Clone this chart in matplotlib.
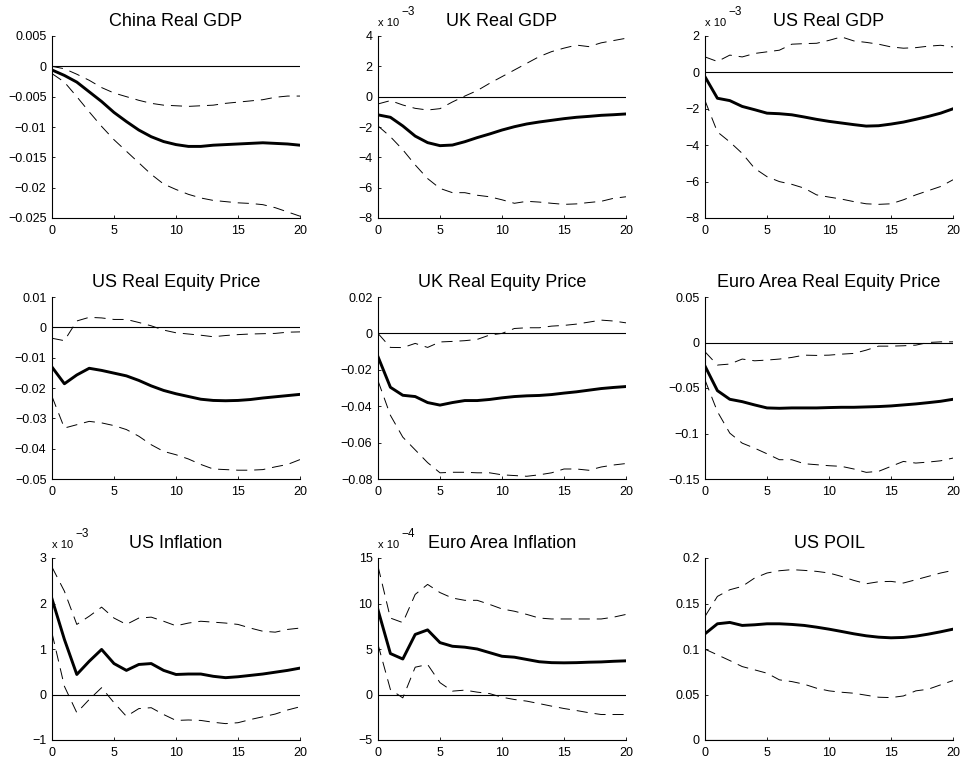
import numpy as np
import matplotlib
matplotlib.use('Agg')
from matplotlib import pyplot as plt
from matplotlib.ticker import FixedLocator, FuncFormatter

plt.rcParams['font.family'] = ['Liberation Sans', 'DejaVu Sans']
plt.rcParams['lines.scale_dashes'] = False

horizon = np.arange(21)

# impulse responses: median and the two error bands for each variable
china_gdp = [-0.0006, -0.0015, -0.0026, -0.0042, -0.0058, -0.0076, -0.0091, -0.0105, -0.0116, -0.0124,
             -0.0129, -0.0132, -0.0132, -0.0130, -0.0129, -0.0128, -0.0127, -0.0126, -0.0127, -0.0128, -0.0130]
china_gdp_hi = [0.0, -0.0004, -0.0013, -0.0023, -0.0035, -0.0044, -0.0050, -0.0056, -0.0061, -0.0064,
                -0.0065, -0.0066, -0.0065, -0.0064, -0.0061, -0.0059, -0.0057, -0.0055, -0.0051, -0.0049, -0.0049]
china_gdp_lo = [-0.0012, -0.0026, -0.0050, -0.0075, -0.0099, -0.0121, -0.0140, -0.0159, -0.0178, -0.0194,
                -0.0203, -0.0211, -0.0217, -0.0221, -0.0223, -0.0225, -0.0226, -0.0228, -0.0233, -0.0240, -0.0247]

uk_gdp = [-1.20e-3, -1.36e-3, -1.93e-3, -2.60e-3, -3.03e-3, -3.23e-3, -3.19e-3, -2.97e-3, -2.70e-3, -2.46e-3,
          -2.20e-3, -1.98e-3, -1.80e-3, -1.67e-3, -1.56e-3, -1.45e-3, -1.36e-3, -1.30e-3, -1.23e-3, -1.19e-3, -1.14e-3]
uk_gdp_hi = [-0.48e-3, -0.26e-3, -0.55e-3, -0.77e-3, -0.88e-3, -0.79e-3, -0.35e-3, 0.04e-3, 0.40e-3, 0.88e-3,
             1.32e-3, 1.76e-3, 2.20e-3, 2.64e-3, 2.97e-3, 3.20e-3, 3.40e-3, 3.30e-3, 3.55e-3, 3.70e-3, 3.85e-3]
uk_gdp_lo = [-1.93e-3, -2.64e-3, -3.50e-3, -4.50e-3, -5.40e-3, -6.05e-3, -6.33e-3, -6.33e-3, -6.50e-3, -6.60e-3,
             -6.80e-3, -7.03e-3, -6.90e-3, -6.95e-3, -7.03e-3, -7.10e-3, -7.07e-3, -6.98e-3, -6.90e-3, -6.70e-3, -6.60e-3]

us_gdp = [-0.24e-3, -1.42e-3, -1.55e-3, -1.87e-3, -2.05e-3, -2.24e-3, -2.27e-3, -2.33e-3, -2.45e-3, -2.58e-3,
          -2.69e-3, -2.78e-3, -2.87e-3, -2.95e-3, -2.93e-3, -2.84e-3, -2.73e-3, -2.58e-3, -2.42e-3, -2.24e-3, -2.00e-3]
us_gdp_hi = [0.85e-3, 0.60e-3, 0.95e-3, 0.85e-3, 1.04e-3, 1.13e-3, 1.22e-3, 1.55e-3, 1.58e-3, 1.60e-3,
             1.76e-3, 1.95e-3, 1.73e-3, 1.65e-3, 1.55e-3, 1.40e-3, 1.33e-3, 1.36e-3, 1.44e-3, 1.49e-3, 1.40e-3]
us_gdp_lo = [-1.55e-3, -3.27e-3, -3.82e-3, -4.45e-3, -5.27e-3, -5.73e-3, -6.00e-3, -6.15e-3, -6.36e-3, -6.73e-3,
             -6.85e-3, -6.96e-3, -7.10e-3, -7.22e-3, -7.25e-3, -7.22e-3, -7.00e-3, -6.73e-3, -6.50e-3, -6.27e-3, -5.90e-3]

us_eq = [-0.0131, -0.0186, -0.0157, -0.0135, -0.0142, -0.0151, -0.0160, -0.0175, -0.0193, -0.0208,
         -0.0219, -0.0228, -0.0237, -0.0241, -0.0242, -0.0241, -0.0238, -0.0233, -0.0229, -0.0225, -0.0221]
us_eq_hi = [-0.0036, -0.0044, 0.0021, 0.0033, 0.0031, 0.0026, 0.0026, 0.0016, 0.0005, -0.0009,
            -0.0018, -0.0022, -0.0026, -0.0031, -0.0027, -0.0024, -0.0022, -0.0021, -0.0020, -0.0016, -0.0015]
us_eq_lo = [-0.0228, -0.0332, -0.0321, -0.0310, -0.0315, -0.0324, -0.0337, -0.0359, -0.0387, -0.0409,
            -0.0420, -0.0434, -0.0452, -0.0467, -0.0469, -0.0471, -0.0471, -0.0469, -0.0460, -0.0452, -0.0436]

uk_eq = [-0.0128, -0.0296, -0.0340, -0.0347, -0.0380, -0.0394, -0.0380, -0.0369, -0.0369, -0.0363,
         -0.0354, -0.0347, -0.0343, -0.0341, -0.0336, -0.0328, -0.0321, -0.0312, -0.0303, -0.0297, -0.0292]
uk_eq_hi = [0.0, -0.0077, -0.0078, -0.0055, -0.0077, -0.0047, -0.0044, -0.0040, -0.0033, -0.0009,
            0.0, 0.0027, 0.0031, 0.0031, 0.0040, 0.0044, 0.0051, 0.0062, 0.0073, 0.0068, 0.0058]
uk_eq_lo = [-0.0260, -0.0450, -0.0570, -0.0640, -0.0710, -0.0766, -0.0763, -0.0763, -0.0766, -0.0766,
            -0.0777, -0.0781, -0.0785, -0.0777, -0.0766, -0.0745, -0.0745, -0.0752, -0.0734, -0.0723, -0.0715]

ea_eq = [-0.0259, -0.0529, -0.0624, -0.0650, -0.0686, -0.0719, -0.0723, -0.0719, -0.0719, -0.0719,
         -0.0715, -0.0712, -0.0712, -0.0708, -0.0704, -0.0697, -0.0686, -0.0675, -0.0661, -0.0646, -0.0624]
ea_eq_hi = [-0.0102, -0.0248, -0.0237, -0.0182, -0.0201, -0.0193, -0.0182, -0.0164, -0.0139, -0.0142,
            -0.0139, -0.0128, -0.0120, -0.0084, -0.0040, -0.0040, -0.0036, -0.0029, 0.0, 0.0007, 0.0007]
ea_eq_lo = [-0.0412, -0.0759, -0.0996, -0.1106, -0.1161, -0.1223, -0.1288, -0.1288, -0.1332, -0.1343,
            -0.1354, -0.1361, -0.1390, -0.1427, -0.1416, -0.1361, -0.1307, -0.1325, -0.1314, -0.1300, -0.1270]

us_inf = [2.10e-3, 1.21e-3, 0.44e-3, 0.73e-3, 0.99e-3, 0.68e-3, 0.53e-3, 0.66e-3, 0.68e-3, 0.53e-3,
          0.44e-3, 0.45e-3, 0.45e-3, 0.40e-3, 0.37e-3, 0.39e-3, 0.42e-3, 0.45e-3, 0.49e-3, 0.53e-3, 0.58e-3]
us_inf_hi = [2.80e-3, 2.27e-3, 1.54e-3, 1.72e-3, 1.92e-3, 1.68e-3, 1.54e-3, 1.68e-3, 1.70e-3, 1.61e-3,
             1.51e-3, 1.57e-3, 1.61e-3, 1.59e-3, 1.57e-3, 1.54e-3, 1.46e-3, 1.39e-3, 1.37e-3, 1.43e-3, 1.46e-3]
us_inf_lo = [1.35e-3, 0.18e-3, -0.40e-3, -0.11e-3, 0.15e-3, -0.18e-3, -0.48e-3, -0.31e-3, -0.29e-3, -0.44e-3,
             -0.57e-3, -0.56e-3, -0.57e-3, -0.61e-3, -0.64e-3, -0.62e-3, -0.55e-3, -0.49e-3, -0.43e-3, -0.34e-3, -0.27e-3]

ea_inf = [9.3e-4, 4.5e-4, 3.9e-4, 6.6e-4, 7.1e-4, 5.7e-4, 5.3e-4, 5.2e-4, 5.0e-4, 4.6e-4,
          4.2e-4, 4.1e-4, 3.85e-4, 3.6e-4, 3.5e-4, 3.48e-4, 3.5e-4, 3.55e-4, 3.58e-4, 3.65e-4, 3.7e-4]
ea_inf_hi = [14.1e-4, 8.4e-4, 7.9e-4, 11.0e-4, 12.1e-4, 11.2e-4, 10.6e-4, 10.35e-4, 10.35e-4, 9.9e-4,
             9.4e-4, 9.15e-4, 8.8e-4, 8.4e-4, 8.3e-4, 8.3e-4, 8.3e-4, 8.3e-4, 8.3e-4, 8.5e-4, 8.8e-4]
ea_inf_lo = [5.5e-4, 0.55e-4, -0.37e-4, 3.0e-4, 3.3e-4, 1.3e-4, 0.37e-4, 0.48e-4, 0.26e-4, 0.1e-4,
             -0.3e-4, -0.55e-4, -0.73e-4, -1.0e-4, -1.28e-4, -1.54e-4, -1.76e-4, -2.0e-4, -2.2e-4, -2.2e-4, -2.2e-4]

us_poil = [0.1167, 0.1277, 0.1292, 0.1259, 0.1266, 0.1277, 0.1277, 0.1270, 0.1259, 0.1240,
           0.1218, 0.1193, 0.1167, 0.1145, 0.1130, 0.1123, 0.1127, 0.1141, 0.1163, 0.1189, 0.1218]
us_poil_hi = [0.1358, 0.1578, 0.1651, 0.1688, 0.1780, 0.1835, 0.1860, 0.1872, 0.1864, 0.1853,
              0.1835, 0.1798, 0.1754, 0.1717, 0.1739, 0.1743, 0.1725, 0.1761, 0.1798, 0.1835, 0.1864]
us_poil_lo = [0.0998, 0.0936, 0.0873, 0.0807, 0.0771, 0.0734, 0.0661, 0.0642, 0.0613, 0.0569,
              0.0540, 0.0525, 0.0514, 0.0492, 0.0470, 0.0466, 0.0484, 0.0540, 0.0558, 0.0606, 0.0653]

titles = ['China Real GDP', 'UK Real GDP', 'US Real GDP',
          'US Real Equity Price', 'UK Real Equity Price', 'Euro Area Real Equity Price',
          'US Inflation', 'Euro Area Inflation', 'US POIL']
medians = [china_gdp, uk_gdp, us_gdp, us_eq, uk_eq, ea_eq, us_inf, ea_inf, us_poil]
uppers = [china_gdp_hi, uk_gdp_hi, us_gdp_hi, us_eq_hi, uk_eq_hi, ea_eq_hi, us_inf_hi, ea_inf_hi, us_poil_hi]
lowers = [china_gdp_lo, uk_gdp_lo, us_gdp_lo, us_eq_lo, uk_eq_lo, ea_eq_lo, us_inf_lo, ea_inf_lo, us_poil_lo]
# (ymin, ymax, step) in displayed units, and the exponent shown above the axis
y_ranges = [(-0.025, 0.005, 0.005), (-8, 4, 2), (-8, 2, 2),
            (-0.05, 0.01, 0.01), (-0.08, 0.02, 0.02), (-0.15, 0.05, 0.05),
            (-1, 3, 1), (-5, 15, 5), (0, 0.2, 0.05)]
exponents = [0, -3, -3, 0, 0, 0, -3, -4, 0]


def fmt(v, pos):
    return ('%g' % v).replace('-', '\u2212')


fig = plt.figure(figsize=(9.6, 7.63), dpi=100)
lefts = [52 / 960, 378 / 960, 705 / 960]
bottoms = [1 - 218 / 763, 1 - 479 / 763, 1 - 740 / 763]
w, h = 248 / 960, 182 / 763

for i in range(9):
    ax = fig.add_axes([lefts[i % 3], bottoms[i // 3], w, h])
    scale = 10.0 ** exponents[i]
    ax.plot(horizon, np.array(medians[i]) / scale, color='black', lw=2.1, solid_joinstyle='round')
    ax.plot(horizon, np.array(uppers[i]) / scale, color='black', lw=0.7, dashes=(8, 5))
    ax.plot(horizon, np.array(lowers[i]) / scale, color='black', lw=0.7, dashes=(8, 5))
    ax.axhline(0, color='black', lw=0.8)

    ymin, ymax, step = y_ranges[i]
    ticks = np.round(np.arange(ymin, ymax + step / 2, step), 6)
    ax.set_xlim(0, 20)
    ax.set_ylim(ymin, ymax)
    ax.xaxis.set_major_locator(FixedLocator([0, 5, 10, 15, 20]))
    ax.yaxis.set_major_locator(FixedLocator(ticks))
    ax.yaxis.set_major_formatter(FuncFormatter(fmt))
    ax.tick_params(direction='in', length=2.5, width=0.6, labelsize=9)
    ax.tick_params(axis='x', pad=5)
    ax.tick_params(axis='y', pad=4)
    for side in ['top', 'right']:
        ax.spines[side].set_visible(False)
    for side in ['left', 'bottom']:
        ax.spines[side].set_linewidth(0.8)
    ax.set_title(titles[i], fontsize=13, pad=7)

    if exponents[i] != 0:
        ax.annotate('x 10', xy=(0, 1), xycoords='axes fraction', xytext=(0, 6),
                    textcoords='offset points', fontsize=8, ha='left', va='bottom')
        ax.annotate(str(exponents[i]).replace('-', '\u2212'), xy=(0, 1), xycoords='axes fraction',
                    xytext=(17, 13), textcoords='offset points', fontsize=8.5, ha='left', va='bottom')

fig.savefig('out.png', dpi=100)
